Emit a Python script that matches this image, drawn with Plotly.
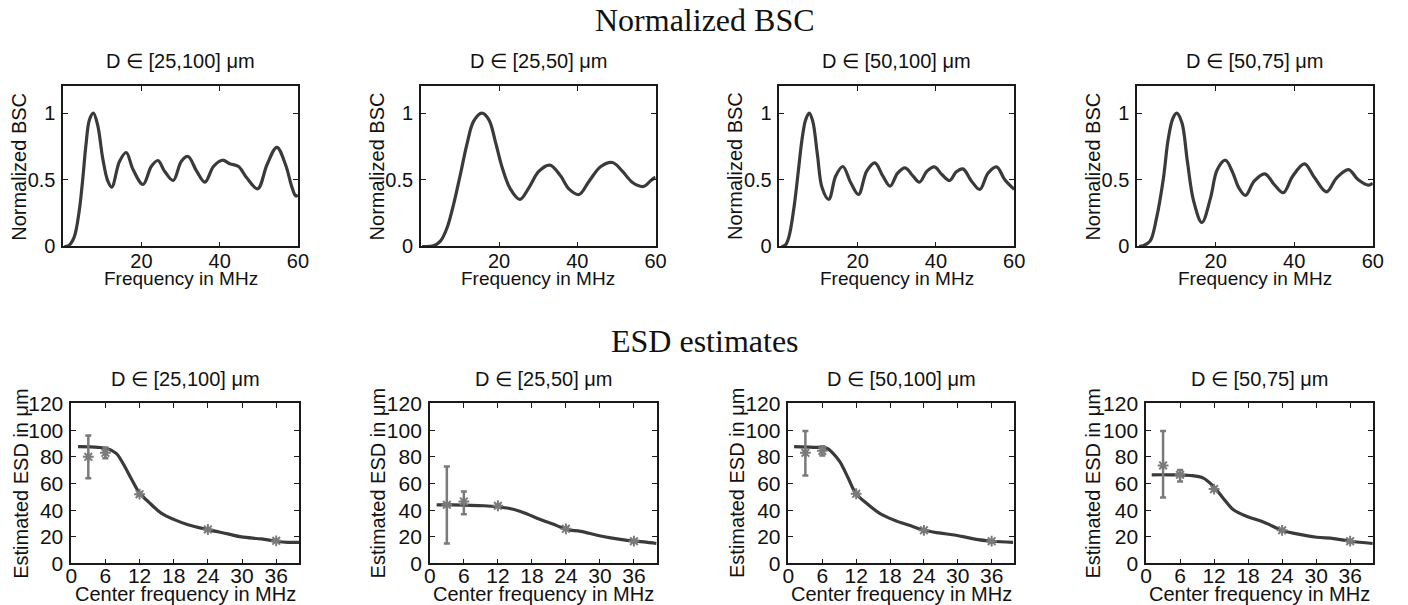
import plotly.graph_objects as go

W, H = 1408, 605

# ---------------- Data: Normalized BSC (top row) ----------------
titles = ["D \u2208 [25,100] \u03bcm", "D \u2208 [25,50] \u03bcm",
          "D \u2208 [50,100] \u03bcm", "D \u2208 [50,75] \u03bcm"]

bsc1_f = [0.3, 1.5, 2.8, 4.1, 5.0, 5.8, 6.7, 7.7, 8.8, 10.1, 11.4, 12.4, 14.4, 16.1, 17.8, 20.4,
          22.5, 24.2, 25.9, 28.1, 30.2, 31.9, 34.1, 36.2, 38.4, 40.7, 42.6, 44.8, 46.9, 49.7,
          52.1, 54.6, 56.8, 58.5, 59.4, 60.0]
bsc1_v = [0.0, 0.01, 0.07, 0.27, 0.51, 0.76, 0.95, 1.0, 0.91, 0.66, 0.49, 0.445, 0.64, 0.705, 0.58, 0.465,
          0.6, 0.645, 0.565, 0.495, 0.64, 0.675, 0.565, 0.483, 0.6, 0.647, 0.62, 0.6, 0.515, 0.433,
          0.615, 0.744, 0.615, 0.44, 0.38, 0.385]

bsc2_f = [0.3, 3.2, 5.0, 6.7, 8.4, 10.1, 11.8, 13.5, 15.6, 17.4, 19.1, 20.8, 22.9, 25.3, 27.6,
          30.2, 33.0, 35.7, 37.9, 40.4, 43.0, 46.0, 49.0, 51.5, 54.1, 56.9, 58.8, 60.0]
bsc2_v = [0.0, 0.005, 0.04, 0.14, 0.32, 0.54, 0.77, 0.94, 1.0, 0.95, 0.78, 0.59, 0.43, 0.353, 0.44,
          0.565, 0.61, 0.53, 0.43, 0.39, 0.49, 0.6, 0.63, 0.565, 0.48, 0.45, 0.495, 0.52]

bsc3_f = [0.5, 1.5, 2.4, 3.7, 4.8, 5.8, 6.7, 7.6, 8.5, 9.7, 10.9, 12.6, 14.4, 16.2, 18.2, 20.2,
          22.3, 24.4, 26.4, 28.3, 30.2, 32.1, 34.1, 35.8, 37.7, 39.6, 41.5, 43.5, 45.2, 46.9,
          49.1, 51.2, 53.3, 55.5, 57.6, 60.0]
bsc3_v = [0.0, 0.01, 0.07, 0.29, 0.56, 0.81, 0.95, 1.0, 0.94, 0.69, 0.44, 0.353, 0.53, 0.6, 0.48, 0.39,
          0.565, 0.627, 0.53, 0.453, 0.55, 0.59, 0.53, 0.483, 0.565, 0.597, 0.54, 0.495, 0.56, 0.582,
          0.49, 0.428, 0.55, 0.597, 0.5, 0.428]

bsc4_f = [0.5, 1.5, 3.3, 5.0, 6.7, 7.9, 9.1, 10.1, 11.4, 12.8, 14.4, 16.5, 18.7, 20.4, 22.5, 24.2,
          25.9, 27.6, 29.8, 32.5, 34.9, 37.2, 39.6, 42.6, 45.2, 48.2, 50.8, 53.8, 56.3, 58.9, 60.0]
bsc4_v = [0.0, 0.005, 0.04, 0.22, 0.51, 0.8, 0.96, 1.0, 0.93, 0.64, 0.34, 0.18, 0.365, 0.575, 0.647, 0.565,
          0.44, 0.383, 0.49, 0.545, 0.465, 0.403, 0.527, 0.62, 0.515, 0.41, 0.515, 0.577, 0.5, 0.46, 0.475]

bsc_f = [bsc1_f, bsc2_f, bsc3_f, bsc4_f]
bsc_v = [bsc1_v, bsc2_v, bsc3_v, bsc4_v]

# ---------------- Data: ESD estimates (bottom row) ----------------
esd1_f = [1.2, 4.7, 6.4, 7.9, 9.1, 10.5, 12.0, 13.5, 15.8, 18.1, 20.5, 24.0, 27.5, 29.9, 33.4, 36.0, 38.0, 40.0]
esd1_v = [87.6, 87.1, 86.0, 82.6, 75.0, 64.0, 52.8, 46.5, 37.8, 32.9, 29.1, 25.4, 22.2, 19.9, 18.4, 16.7, 15.9, 15.9]

esd2_f = [1.2, 4.0, 9.5, 13.6, 16.0, 18.9, 22.4, 24.2, 26.6, 29.5, 31.9, 34.8, 37.7, 40.0]
esd2_v = [44.0, 44.0, 43.3, 41.6, 39.0, 34.0, 28.4, 25.4, 24.1, 21.2, 19.2, 17.4, 16.2, 15.0]

esd3_f = [1.0, 4.4, 6.8, 7.9, 9.1, 10.6, 11.9, 13.8, 16.1, 18.5, 21.4, 24.1, 26.7, 29.7, 32.6, 36.0, 39.8]
esd3_v = [87.6, 87.1, 86.4, 82.6, 76.4, 64.0, 52.8, 45.3, 37.8, 32.9, 28.6, 24.9, 22.9, 21.2, 18.7, 16.7, 15.9]

esd4_f = [1.0, 4.2, 7.8, 10.1, 11.9, 13.6, 15.4, 17.8, 20.7, 24.2, 26.6, 30.1, 33.1, 36.0, 40.0]
esd4_v = [66.5, 66.5, 66.0, 64.0, 57.8, 49.0, 40.3, 35.3, 31.1, 24.6, 22.2, 19.7, 18.7, 16.7, 15.0]

esd_f = [esd1_f, esd2_f, esd3_f, esd4_f]
esd_v = [esd1_v, esd2_v, esd3_v, esd4_v]

center_f = [3, 6, 12, 24, 36]
est1 = [80.0, 83.0, 52.0, 25.5, 17.0]
est1_hi = [96.0, 87.0, 53.0, 26.0, 17.5]
est1_lo = [64.0, 79.0, 51.0, 25.0, 16.5]
est2 = [44.0, 46.5, 43.3, 26.0, 16.7]
est2_hi = [72.7, 54.0, 44.3, 26.5, 17.2]
est2_lo = [15.0, 37.0, 42.3, 25.5, 16.2]
est3 = [83.0, 84.5, 52.3, 24.9, 16.7]
est3_hi = [99.3, 87.9, 53.3, 25.4, 17.2]
est3_lo = [66.0, 80.9, 51.3, 24.4, 16.2]
est4 = [73.5, 66.5, 55.8, 24.9, 16.7]
est4_hi = [99.3, 70.2, 56.8, 25.4, 17.2]
est4_lo = [49.5, 61.5, 54.8, 24.4, 16.2]

est = [est1, est2, est3, est4]
est_hi = [est1_hi, est2_hi, est3_hi, est4_hi]
est_lo = [est1_lo, est2_lo, est3_lo, est4_lo]

# ---------------- Layout geometry (target pixels in the photo) ----------------
top_x = [(62, 297), (420, 655), (779, 1014), (1137, 1373)]
bot_x = [(70, 298), (429, 656), (788, 1014), (1146, 1373)]
top_y = (85, 245)
bot_y = (402, 562)
top_ylab_x = [18, 377, 735, 1093]
bot_ylab_x = [20, 378, 737, 1093]

# the photographed page shows a slightly scaled / shifted view; compensate
SX, OX = 0.989, 4.7
SY, OY = 0.962, 10.5

def px_x(p):
    return ((p - OX) / SX) / W

def px_y(p):
    return 1 - ((p - OY) / SY) / H

LINE = "#3a3a3a"
MARK = "#7a7a7a"
AX = "#1a1a1a"
TXT = "#111111"
SANS = "Liberation Sans, Arial, Helvetica, sans-serif"
SERIF = "Liberation Serif, Times New Roman, serif"

fig = go.Figure()
layout = dict(width=W, height=H, autosize=False, margin=dict(l=0, r=0, t=0, b=0),
              paper_bgcolor="white", plot_bgcolor="white", showlegend=False)
annotations = []

def axis_common(fs):
    return dict(showline=True, linecolor=AX, linewidth=1.5, mirror="allticks",
                ticks="inside", ticklen=5, tickcolor=AX, tickwidth=1.2,
                showgrid=False, zeroline=False,
                tickfont=dict(family=SANS, size=fs, color=TXT))

def ann(text, x, y, size, family=SANS, angle=0):
    return dict(text=text, x=px_x(x), y=px_y(y), xref="paper", yref="paper",
                showarrow=False, xanchor="center", yanchor="middle", textangle=angle,
                font=dict(family=family, size=size, color=TXT))

for i in range(4):
    # ---- top row: normalized BSC ----
    n = 2 * i + 1
    sfx = "" if n == 1 else str(n)
    xr, yr = "x" + sfx, "y" + sfx
    layout["xaxis" + sfx] = dict(domain=[px_x(top_x[i][0]), px_x(top_x[i][1])], anchor=yr,
                                 range=[0, 60], tickvals=[20, 40, 60], ticktext=["20", "40", "60"],
                                 ticklabelstandoff=-4, **axis_common(20))
    layout["yaxis" + sfx] = dict(domain=[px_y(top_y[1]), px_y(top_y[0])], anchor=xr,
                                 range=[0, 1.2], tickvals=[0, 0.5, 1], ticktext=["0", "0.5", "1"],
                                 ticklabelstandoff=2, **axis_common(20))
    fig.add_trace(go.Scatter(x=bsc_f[i], y=bsc_v[i], mode="lines", xaxis=xr, yaxis=yr,
                             line=dict(color=LINE, width=3.2, shape="spline", smoothing=1.0),
                             hoverinfo="skip"))
    cx = (top_x[i][0] + top_x[i][1]) / 2
    annotations.append(ann(titles[i], cx, 60, 20))
    annotations.append(ann("Frequency in MHz", cx, 277, 19))
    annotations.append(ann("Normalized BSC", top_ylab_x[i], 165, 20, angle=-90))

    # ---- bottom row: ESD estimates ----
    m = 2 * i + 2
    sfx = str(m)
    xr, yr = "x" + sfx, "y" + sfx
    layout["xaxis" + sfx] = dict(domain=[px_x(bot_x[i][0]), px_x(bot_x[i][1])], anchor=yr,
                                 range=[0, 40], tickvals=[0, 6, 12, 18, 24, 30, 36],
                                 ticklabelstandoff=-7, **axis_common(21))
    layout["yaxis" + sfx] = dict(domain=[px_y(bot_y[1]), px_y(bot_y[0])], anchor=xr,
                                 range=[0, 120], tickvals=[0, 20, 40, 60, 80, 100, 120],
                                 ticklabelstandoff=2, **axis_common(21))
    fig.add_trace(go.Scatter(x=esd_f[i], y=esd_v[i], mode="lines", xaxis=xr, yaxis=yr,
                             line=dict(color=LINE, width=3.2, shape="spline", smoothing=1.0),
                             hoverinfo="skip"))
    plus = [h - v for h, v in zip(est_hi[i], est[i])]
    minus = [v - l for v, l in zip(est[i], est_lo[i])]
    fig.add_trace(go.Scatter(x=center_f, y=est[i], mode="markers", xaxis=xr, yaxis=yr,
                             marker=dict(symbol="asterisk-open", size=9, color=MARK,
                                         line=dict(color=MARK, width=2)),
                             error_y=dict(type="data", array=plus, arrayminus=minus, symmetric=False,
                                          color=MARK, thickness=2.5, width=3),
                             hoverinfo="skip"))
    cx = (bot_x[i][0] + bot_x[i][1]) / 2
    annotations.append(ann(titles[i], cx, 378, 20))
    annotations.append(ann("Center frequency in MHz", cx, 593, 20))
    annotations.append(ann("Estimated ESD in \u03bcm", bot_ylab_x[i], 482, 20, angle=-90))

annotations.append(ann("Normalized BSC", W / 2, 19, 32, family=SERIF))
annotations.append(ann("ESD estimates", W / 2, 340, 32, family=SERIF))

layout["annotations"] = annotations
fig.update_layout(**layout)

# pin the figure to the top-left corner of the page so nothing scrolls or shifts
pin = ("var gd=document.getElementById('{plot_id}');"
       "document.documentElement.style.margin='0';document.body.style.margin='0';"
       "document.body.style.overflow='hidden';document.documentElement.style.overflow='hidden';"
       "gd.style.position='fixed';gd.style.left='0px';gd.style.top='0px';")
fig.write_html("out.html", post_script=pin, config={"displayModeBar": False})
